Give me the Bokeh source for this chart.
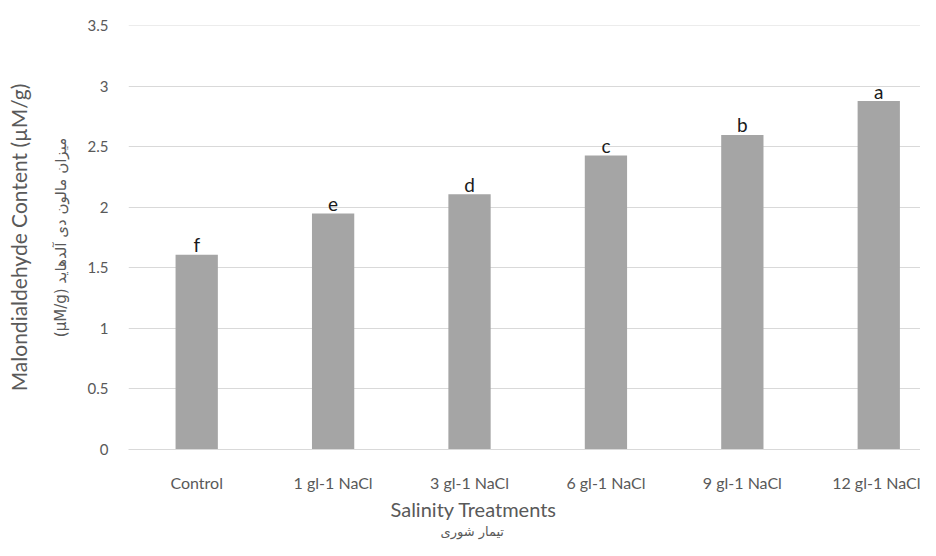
from bokeh.plotting import figure
from bokeh.models import Range1d, FixedTicker, Title, ColumnDataSource
from bokeh.core.properties import value
from bokeh.embed import file_html
from bokeh.resources import INLINE

categories = ["Control", "1 gl-1 NaCl", "3 gl-1 NaCl", "6 gl-1 NaCl", "9 gl-1 NaCl", "12 gl-1 NaCl"]
mda = [1.61, 1.95, 2.11, 2.43, 2.60, 2.88]
letters = ["f", "e", "d", "c", "b", "a"]
y_ticks = [0, 0.5, 1, 1.5, 2, 2.5, 3, 3.5]
y_tick_labels = ["0", "0.5", "1", "1.5", "2", "2.5", "3", "3.5"]

FONT = "Lato"
GREY = "#595959"

xs = list(range(len(categories)))
src = ColumnDataSource(dict(x=xs, top=mda, lab=letters))

p = figure(width=920, height=540, output_backend="svg", toolbar_location=None,
           x_range=Range1d(-0.5, 5.306), y_range=Range1d(0, 3.504),
           min_border_left=128, min_border_top=25, min_border_right=0, min_border_bottom=0)
p.outline_line_color = None
p.background_fill_color = "white"
p.border_fill_color = "white"

p.vbar(x="x", top="top", width=0.31, source=src, fill_color="#A5A5A5", line_color=None)
p.text(x="x", y="top", text="lab", source=src, text_align="center", text_baseline="alphabetic",
       y_offset=-10, text_font=value(FONT), text_font_size="19px", text_color="#1a1a1a")

p.xgrid.grid_line_color = None
p.ygrid.grid_line_color = "#D9D9D9"
p.ygrid.ticker = FixedTicker(ticks=y_ticks)

ya = p.yaxis[0]
ya.ticker = FixedTicker(ticks=y_ticks)
ya.major_label_overrides = {t: l for t, l in zip(y_ticks, y_tick_labels)}
ya.axis_line_color = None
ya.major_tick_line_color = None
ya.minor_tick_line_color = None
ya.major_tick_out = 0
ya.minor_tick_out = 0
ya.major_label_standoff = 20
ya.major_label_text_font = FONT
ya.major_label_text_font_size = "15px"
ya.major_label_text_color = GREY

xa = p.xaxis[0]
xa.ticker = FixedTicker(ticks=xs)
xa.major_label_overrides = {i: c for i, c in enumerate(categories)}
xa.axis_line_color = "#D9D9D9"
xa.axis_line_width = 1
xa.major_tick_line_color = None
xa.minor_tick_line_color = None
xa.major_tick_out = 0
xa.minor_tick_out = 0
xa.major_label_standoff = 23
xa.major_label_text_font = FONT
xa.major_label_text_font_size = "16px"
xa.major_label_text_color = GREY

# left titles: nearest first
p.add_layout(Title(text="(µM/g) میزان مالون دی آلدهاید", align="center",
                   text_font="DejaVu Sans", text_font_size="15px", text_font_style="normal",
                   text_color=GREY, standoff=30), "left")
p.add_layout(Title(text="Malondialdehyde Content (µM/g)", align="center",
                   text_font=FONT, text_font_size="21px", text_font_style="normal",
                   text_color=GREY, standoff=7), "left")

# below titles: nearest first
p.add_layout(Title(text="Salinity Treatments", align="left", offset=262,
                   text_font=FONT, text_font_size="20px", text_font_style="normal",
                   text_color=GREY, standoff=0), "below")
p.add_layout(Title(text="تیمار شوری", align="left", offset=312,
                   text_font="DejaVu Sans", text_font_size="13px", text_font_style="normal",
                   text_color=GREY, standoff=3), "below")

open("out.html", "w").write(file_html(p, INLINE))
